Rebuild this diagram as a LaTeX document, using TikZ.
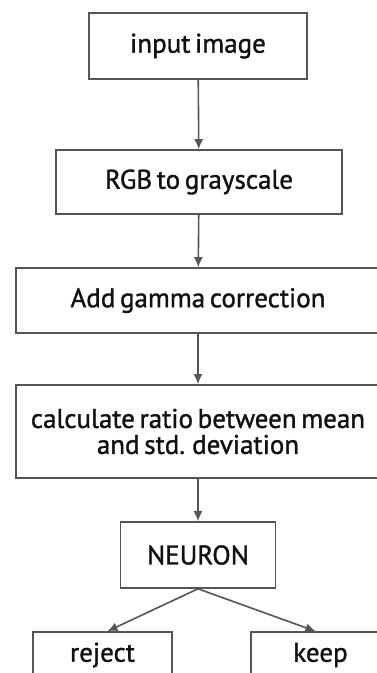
\documentclass[tikz,border=0pt]{standalone}
\usepackage{fontspec}
\setmainfont{PT Sans}[WordSpace=0.65, FakeBold=1.2]
\usetikzlibrary{positioning, arrows.meta}
\definecolor{boxline}{HTML}{555555}
\definecolor{boxtext}{HTML}{111111}
\tikzset{
  flow box/.style={
    draw=boxline,
    line width=1.6pt,
    fill=white,
    text=boxtext,
    align=center,
    font=\fontsize{27}{26}\selectfont,
    inner sep=0pt
  },
  flow arrow/.style={
    -{Latex[length=10pt, width=9pt]},
    line width=1.6pt,
    color=boxline
  }
}
\begin{document}
\begin{tikzpicture}[x=1pt, y=-1pt]
  \useasboundingbox (0,0) rectangle (377,673);
  \clip (0,0) rectangle (377,673);

  % Preprocessing chain
  \node[flow box, minimum width=218pt, minimum height=66pt] (input) at (198,46) {input image};
  \node[flow box, minimum width=286pt, minimum height=64pt] (gray) at (199,182) {RGB to grayscale};
  \node[flow box, minimum width=364pt, minimum height=65pt] (gamma) at (198,300.5) {Add gamma correction};
  \node[flow box, minimum width=364pt, minimum height=93pt] (ratio) at (198,431.5) {calculate ratio between mean\\and std. deviation};
  \draw[flow arrow] (input) -- (gray);
  \draw[flow arrow] (gray) -- (gamma);
  \draw[flow arrow] (gamma) -- (ratio);

  % Decision
  \node[flow box, minimum width=155pt, minimum height=66pt] (neuron) at (198,555) {NEURON};
  \draw[flow arrow] (ratio) -- (neuron);
  \node[flow box, minimum width=139pt, minimum height=46pt] (reject) at (102.5,655) {reject};
  \node[flow box, minimum width=139pt, minimum height=46pt] (keep) at (320.5,655) {keep};
  \draw[flow arrow] (neuron.south) -- ([xshift=5pt]reject.north);
  \draw[flow arrow] (neuron.south) -- ([xshift=-5pt]keep.north);
\end{tikzpicture}
\end{document}
